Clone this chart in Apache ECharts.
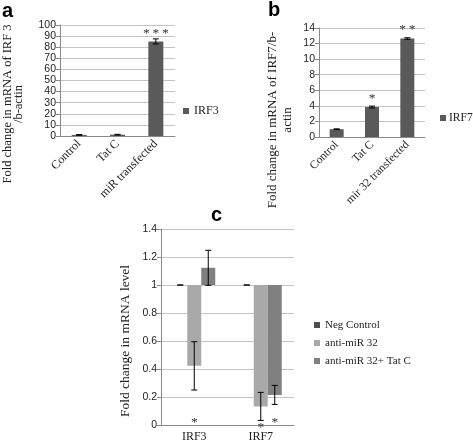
<!DOCTYPE html>
<html><head><meta charset="utf-8">
<script src="https://cdn.jsdelivr.net/npm/echarts@6/dist/echarts.min.js"></script>
<style>html,body{margin:0;padding:0;background:#fff}#c{width:473px;height:444px}</style>
</head><body><div id="c"></div>
<script>
// Panel a
const catsA = ['Control', 'Tat C', 'miR transfected'];
const valsA = [1.0, 1.2, 85.2];
const errA = [0.3, 0.3, 2.3];
const starsA = ['', '', '*\u2009*\u2009*'];
const ticksA = {min: 0, max: 100, interval: 10};
// Panel b
const catsB = ['Control', 'Tat C', 'mir 32 transfected'];
const valsB = [1.0, 3.85, 12.65];
const errB = [0.05, 0.12, 0.1];
const starsB = ['', '*', '*\u2009*'];
const ticksB = {min: 0, max: 14, interval: 2};
// Panel c
const catsC = ['IRF3', 'IRF7'];
const namesC = ['Neg Control', 'anti-miR 32', 'anti-miR 32+ Tat C'];
const negC = [1.0, 1.0];
const negErr = [0, 0];
const antiC = [0.4225, 0.133];
const antiErr = [0.1725, 0.1];
const tatC = [1.123, 0.215];
const tatErr = [0.125, 0.068];
const antiStars = ['*', '*'];
const antiStarY = [0.035, 0.0];
const tatStars = ['', '*'];
const tatStarY = [0, 0.03];
const ticksC = {min: 0, max: 1.4, interval: 0.2};

const serif = 'Liberation Serif';
const sans = 'Liberation Sans';
const gridCol = '#c4c4c4';
const axisCol = '#8a8a8a';

function yAxisCfg(idx, t){
  return {gridIndex: idx, type: 'value', min: t.min, max: t.max, interval: t.interval,
    axisLine: {show: true, lineStyle: {color: axisCol}},
    axisTick: {show: true, length: 4, lineStyle: {color: axisCol}},
    splitLine: {lineStyle: {color: gridCol}},
    axisLabel: {fontFamily: sans, fontSize: 10.5, color: '#222', margin: 4}};
}
function xAxisCfg(idx, cats, rot, fs){
  return {gridIndex: idx, type: 'category', data: cats,
    axisLine: {show: true, lineStyle: {color: axisCol}},
    axisTick: {show: false},
    axisLabel: {fontFamily: serif, fontSize: fs, color: '#222', rotate: rot, margin: 6, interval: 0}};
}
function errRender(offset){
  return function(params, api){
    const x = api.value(0), lo = api.value(1), hi = api.value(2);
    const pt = api.coord([x, hi]), pb = api.coord([x, lo]);
    const cx = pt[0] + offset, cap = 3;
    const st = {stroke: '#000', lineWidth: 1};
    return {type: 'group', children: [
      {type: 'line', shape: {x1: cx, y1: pt[1], x2: cx, y2: pb[1]}, style: st},
      {type: 'line', shape: {x1: cx - cap, y1: pt[1], x2: cx + cap, y2: pt[1]}, style: st},
      {type: 'line', shape: {x1: cx - cap, y1: pb[1], x2: cx + cap, y2: pb[1]}, style: st}
    ]};
  };
}
function starRender(offset, dy){
  return function(params, api){
    const p = api.coord([api.value(0), api.value(1)]);
    return {type: 'text', x: p[0] + offset, y: p[1] + dy,
      style: {text: api.value(2), fontFamily: serif, fontSize: 13.5, fill: '#333',
        textAlign: 'center', textVerticalAlign: 'bottom'}};
  };
}
function errData(vals, errs){ return vals.map((v, i) => [i, v - errs[i], v + errs[i]]); }
function starData(vals, errs, stars){ return vals.map((v, i) => [i, v + errs[i], stars[i]]); }

const series = [];
// a
series.push({name: 'IRF3', type: 'bar', xAxisIndex: 0, yAxisIndex: 0, data: valsA, barWidth: 15,
  itemStyle: {color: '#5a5a5a'}});
series.push({type: 'custom', xAxisIndex: 0, yAxisIndex: 0, data: errData(valsA, errA), renderItem: errRender(0), z: 5, silent: true});
series.push({type: 'custom', xAxisIndex: 0, yAxisIndex: 0, data: starData(valsA, errA, starsA), renderItem: starRender(0, 2), z: 5, silent: true});
// b
series.push({name: 'IRF7', type: 'bar', xAxisIndex: 1, yAxisIndex: 1, data: valsB, barWidth: 14,
  itemStyle: {color: '#5a5a5a'}});
series.push({type: 'custom', xAxisIndex: 1, yAxisIndex: 1, data: errData(valsB, errB), renderItem: errRender(0), z: 5, silent: true});
series.push({type: 'custom', xAxisIndex: 1, yAxisIndex: 1, data: starData(valsB, errB, starsB), renderItem: starRender(0, -1), z: 5, silent: true});
// c: bars drawn from the baseline at 1 (stacked: transparent base + visible part)
const colorsC = ['#4f4f4f', '#a9a9a9', '#808080'];
const valsC = [negC, antiC, tatC];
const errsC = [negErr, antiErr, tatErr];
const bw = 14;
valsC.forEach((vals, k) => {
  series.push({name: '_base' + k, type: 'bar', xAxisIndex: 2, yAxisIndex: 2, stack: 's' + k, barWidth: bw, barGap: '0%',
    data: vals.map(v => Math.min(v, 1)), itemStyle: {color: 'rgba(0,0,0,0)'}, silent: true});
  series.push({name: namesC[k], type: 'bar', xAxisIndex: 2, yAxisIndex: 2, stack: 's' + k, barWidth: bw, barGap: '0%',
    data: vals.map(v => Math.abs(v - 1)), itemStyle: {color: colorsC[k]}});
  series.push({type: 'custom', xAxisIndex: 2, yAxisIndex: 2, data: errData(vals, errsC[k]), renderItem: errRender((k - 1) * bw), z: 5, silent: true});
});
series.push({type: 'custom', xAxisIndex: 2, yAxisIndex: 2, data: antiStarY.map((y, i) => [i, y, antiStars[i]]), renderItem: starRender(0, 9), z: 5, silent: true});
series.push({type: 'custom', xAxisIndex: 2, yAxisIndex: 2, data: tatStarY.map((y, i) => [i, y, tatStars[i]]), renderItem: starRender(bw, 9), z: 5, silent: true});

const legendText = {fontFamily: serif, color: '#222'};
const option = {
  animation: false,
  grid: [
    {left: 60, top: 25, width: 115, height: 111},
    {left: 319, top: 28, width: 106, height: 109},
    {left: 161, top: 229, width: 133, height: 196}
  ],
  xAxis: [xAxisCfg(0, catsA, 45, 12), xAxisCfg(1, catsB, 45, 11.5), xAxisCfg(2, catsC, 0, 12)],
  yAxis: [yAxisCfg(0, ticksA), yAxisCfg(1, ticksB), yAxisCfg(2, ticksC)],
  legend: [
    {data: ['IRF3'], left: 183, top: 105, padding: 0, itemWidth: 6, itemHeight: 6, itemGap: 4, icon: 'rect',
      textStyle: Object.assign({fontSize: 12}, legendText)},
    {data: ['IRF7'], left: 440, top: 112, padding: 0, itemWidth: 6, itemHeight: 6, itemGap: 4, icon: 'rect',
      textStyle: Object.assign({fontSize: 11.5, padding: [0, 0, 0, -2]}, legendText)},
    {data: namesC, left: 309, top: 314, orient: 'vertical', itemWidth: 6, itemHeight: 6, itemGap: 6, icon: 'rect',
      textStyle: Object.assign({fontSize: 11, lineHeight: 12}, legendText)}
  ],
  graphic: [
    {type: 'text', left: 2, top: 1, style: {text: 'a', fontFamily: sans, fontWeight: 'bold', fontSize: 20, fill: '#000'}},
    {type: 'text', left: 268, top: 0, style: {text: 'b', fontFamily: sans, fontWeight: 'bold', fontSize: 20, fill: '#000'}},
    {type: 'text', left: 211, top: 205, style: {text: 'c', fontFamily: sans, fontWeight: 'bold', fontSize: 20, fill: '#000'}},
    {type: 'text', x: 13, y: 104, rotation: Math.PI / 2,
      style: {text: 'Fold change in mRNA of IRF 3\n/b-actin', fontFamily: serif, fontSize: 12.5, lineHeight: 11.5,
        textAlign: 'center', textVerticalAlign: 'middle', fill: '#222'}},
    {type: 'text', x: 280, y: 120, rotation: Math.PI / 2,
      style: {text: 'Fold change in mRNA of IRF7/b-\nactin', fontFamily: serif, fontSize: 13, lineHeight: 14.5,
        textAlign: 'center', textVerticalAlign: 'middle', fill: '#222'}},
    {type: 'text', x: 125, y: 341, rotation: Math.PI / 2,
      style: {text: 'Fold change in mRNA level', fontFamily: serif, fontSize: 13.5,
        textAlign: 'center', textVerticalAlign: 'middle', fill: '#222'}}
  ],
  series: series
};
const chart = echarts.init(document.getElementById('c'), null, {renderer: 'canvas'});
chart.setOption(option);
</script></body></html>
